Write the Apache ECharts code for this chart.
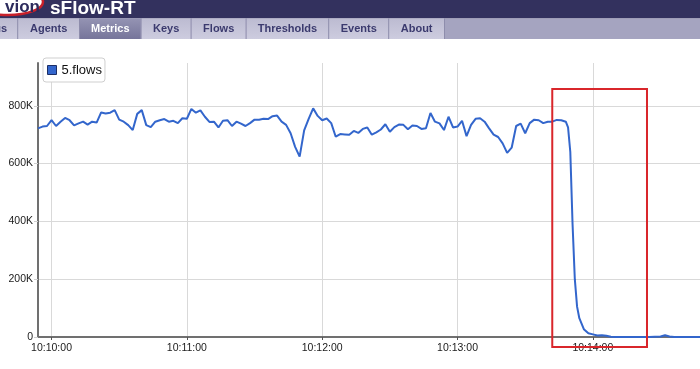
<!DOCTYPE html>
<html><head><meta charset="utf-8">
<script src="https://cdn.jsdelivr.net/npm/echarts@6/dist/echarts.min.js"></script>
<style>html,body{margin:0;padding:0;background:#fff}#c{width:700px;height:369px}</style>
</head><body><div id="c"></div>
<script>
const seriesName = '5.flows';
// seconds after 10:10:00
const secondsAfter1010 = [
 -6,-4,-2,0,2,4,6,8,10,12,14,16,18,20,22,24,26,28,30,32,34,36,38,40,42,44,46,48,50,52,
 54,56,58,60,62,64,66,68,70,72,74,76,78,80,82,84,86,88,90,92,94,96,98,100,102,104,106,108,110,112,
 114,116,118,120,122,124,126,128,130,132,134,136,138,140,142,144,146,148,150,152,154,156,158,160,162,164,166,168,170,172,
 174,176,178,180,182,184,186,188,190,192,194,196,198,200,202,204,206,208,210,212,214,216,218,220,222,224,226,228,229,230,
 231,232,233,234,236,238,240,242,244,246,248,250,255,260,265,270,272,274,276,282,290
];
// flows, thousands
const flowsK = [
 722,728,730,750,730,745,758,750,732,739,745,735,745,742,777,773,776,785,752,745,733,716,772,785,733,726,745,750,754,745,
 748,740,757,755,789,776,784,762,744,745,725,748,750,730,745,738,730,740,752,752,755,754,764,766,745,734,705,658,624,715,
 755,791,765,750,756,740,693,702,701,700,713,706,720,725,700,708,718,736,710,726,735,734,719,732,730,720,722,775,745,739,
 716,762,725,728,748,695,734,755,757,745,722,700,692,670,637,655,730,738,705,740,752,750,740,745,745,751,750,745,725,640,
 390,200,105,65,27,13,9,5,6,4,1,0,0,0,0,2,6,2,0,0,0
];
const yTickValues = [0, 200000, 400000, 600000, 800000];
const tabNames = ['Status','Agents','Metrics','Keys','Flows','Thresholds','Events','About'];
const selectedTab = 'Metrics';
// highlighted window (annotation): seconds after 10:10:00 and value range
const boxSeconds = [222, 264];
const boxValues = [858000, -35000];

const base = new Date(2024, 0, 1, 10, 10, 0).getTime();
const data = secondsAfter1010.map((s, i) => [base + s * 1000, flowsK[i] * 1000]);
const pad = n => (n < 10 ? '0' : '') + n;
const fmtTime = v => { const d = new Date(v); return pad(d.getHours()) + ':' + pad(d.getMinutes()) + ':' + pad(d.getSeconds()); };

const chart = echarts.init(document.getElementById('c'), null, {renderer: 'canvas'});
const gridColor = '#d9d9d9';
chart.setOption({
  animation: false,
  backgroundColor: '#fff',
  grid: {left: 38, right: 0, top: 63, bottom: 32, containLabel: false},
  legend: {
    left: 43, top: 58, orient: 'vertical',
    backgroundColor: '#fff', borderColor: '#cfcfcf', borderWidth: 1, borderRadius: 3,
    padding: [5, 3, 5, 4], itemWidth: 9, itemHeight: 9, itemGap: 0,
    icon: 'rect',
    textStyle: {fontFamily: 'Liberation Sans', fontSize: 13, color: '#111', lineHeight: 14},
    data: [{name: seriesName, itemStyle: {color: '#3366cc', borderColor: '#1c2f66', borderWidth: 1}}]
  },
  xAxis: {
    type: 'time',
    min: base - 6000, max: base + 287500,
    minInterval: 60000, maxInterval: 60000,
    axisLine: {lineStyle: {color: '#707070', width: 2}},
    axisTick: {show: true, length: 3, lineStyle: {color: '#555'}},
    axisLabel: {formatter: v => fmtTime(v), margin: 6, color: '#1a1a1a', fontFamily: 'Liberation Sans', fontSize: 10.5, hideOverlap: false},
    splitLine: {show: true, lineStyle: {color: gridColor, width: 1}}
  },
  yAxis: {
    type: 'value', min: 0, max: 948000, interval: 200000,
    axisLine: {show: true, lineStyle: {color: '#707070', width: 2}},
    axisTick: {show: true, length: 4, lineStyle: {color: '#cfcfcf'}},
    axisLabel: {
      formatter: v => (yTickValues.indexOf(v) < 0 ? '' : (v === 0 ? '0' : (v / 1000) + 'K')),
      margin: 5, color: '#1a1a1a', fontFamily: 'Liberation Sans', fontSize: 10.5, showMaxLabel: false
    },
    splitLine: {lineStyle: {color: [gridColor, gridColor, gridColor, gridColor, gridColor, 'rgba(0,0,0,0)'], width: 1}}
  },
  series: [{
    name: seriesName, type: 'line', data: data, showSymbol: false, symbol: 'none',
    lineStyle: {color: '#3366cc', width: 2}, itemStyle: {color: '#3366cc'}, clip: true
  }]
});

// header / tabs chrome
const tabEdges = [-2, 18.3, 80, 141.7, 191.7, 246.7, 329.3, 389.3, 445];
const graphics = [];
graphics.push({type: 'rect', shape: {x: 0, y: 0, width: 700, height: 18.5}, style: {fill: '#33315e'}, z: 100});
graphics.push({type: 'rect', shape: {x: 0, y: 18.5, width: 700, height: 20.5}, style: {fill: '#a5a4c0'}, z: 100});
tabNames.forEach((name, i) => {
  const x0 = tabEdges[i], x1 = tabEdges[i + 1];
  const sel = name === selectedTab;
  graphics.push({type: 'rect', shape: {x: x0, y: 18.5, width: x1 - x0 - 1, height: 20.5},
    style: {fill: new echarts.graphic.LinearGradient(0, 0, 0, 1, sel ?
      [{offset: 0, color: '#9493b3'}, {offset: 1, color: '#76759a'}] :
      [{offset: 0, color: '#bcbbd1'}, {offset: 1, color: '#cdccdf'}])}, z: 101});
  graphics.push({type: 'rect', shape: {x: x1 - 1, y: 18.5, width: 1, height: 20.5}, style: {fill: '#8e8dac'}, z: 101});
  graphics.push({type: 'text', z: 102, style: {
    text: name, x: i === 0 ? 7 : (x0 + x1 - 1) / 2, y: 29,
    align: i === 0 ? 'right' : 'center', verticalAlign: 'middle',
    font: 'bold 11px "Liberation Sans"', fill: sel ? '#ffffff' : '#3b3a6e'}});
});
graphics.push({type: 'ellipse', shape: {cx: 8, cy: 2, rx: 35, ry: 13}, style: {fill: '#fff', stroke: '#c8202a', lineWidth: 2.5}, z: 103});
graphics.push({type: 'text', z: 104, style: {text: 'vion', x: 40, y: 7, align: 'right', verticalAlign: 'middle', font: 'bold 17px "Liberation Sans"', fill: '#2c2b5c'}});
graphics.push({type: 'text', z: 104, style: {text: 'sFlow-RT', x: 50, y: 8.5, align: 'left', verticalAlign: 'middle', font: 'bold 19px "Liberation Sans"', fill: '#ffffff'}});

// red annotation rectangle from data coordinates
const p0 = chart.convertToPixel({gridIndex: 0}, [base + boxSeconds[0] * 1000, boxValues[0]]);
const p1 = chart.convertToPixel({gridIndex: 0}, [base + boxSeconds[1] * 1000, boxValues[1]]);
graphics.push({type: 'rect', z: 110, shape: {x: p0[0], y: p0[1], width: p1[0] - p0[0], height: p1[1] - p0[1]},
  style: {fill: 'none', stroke: '#d9262b', lineWidth: 2}});
chart.setOption({graphic: graphics});
</script></body></html>
